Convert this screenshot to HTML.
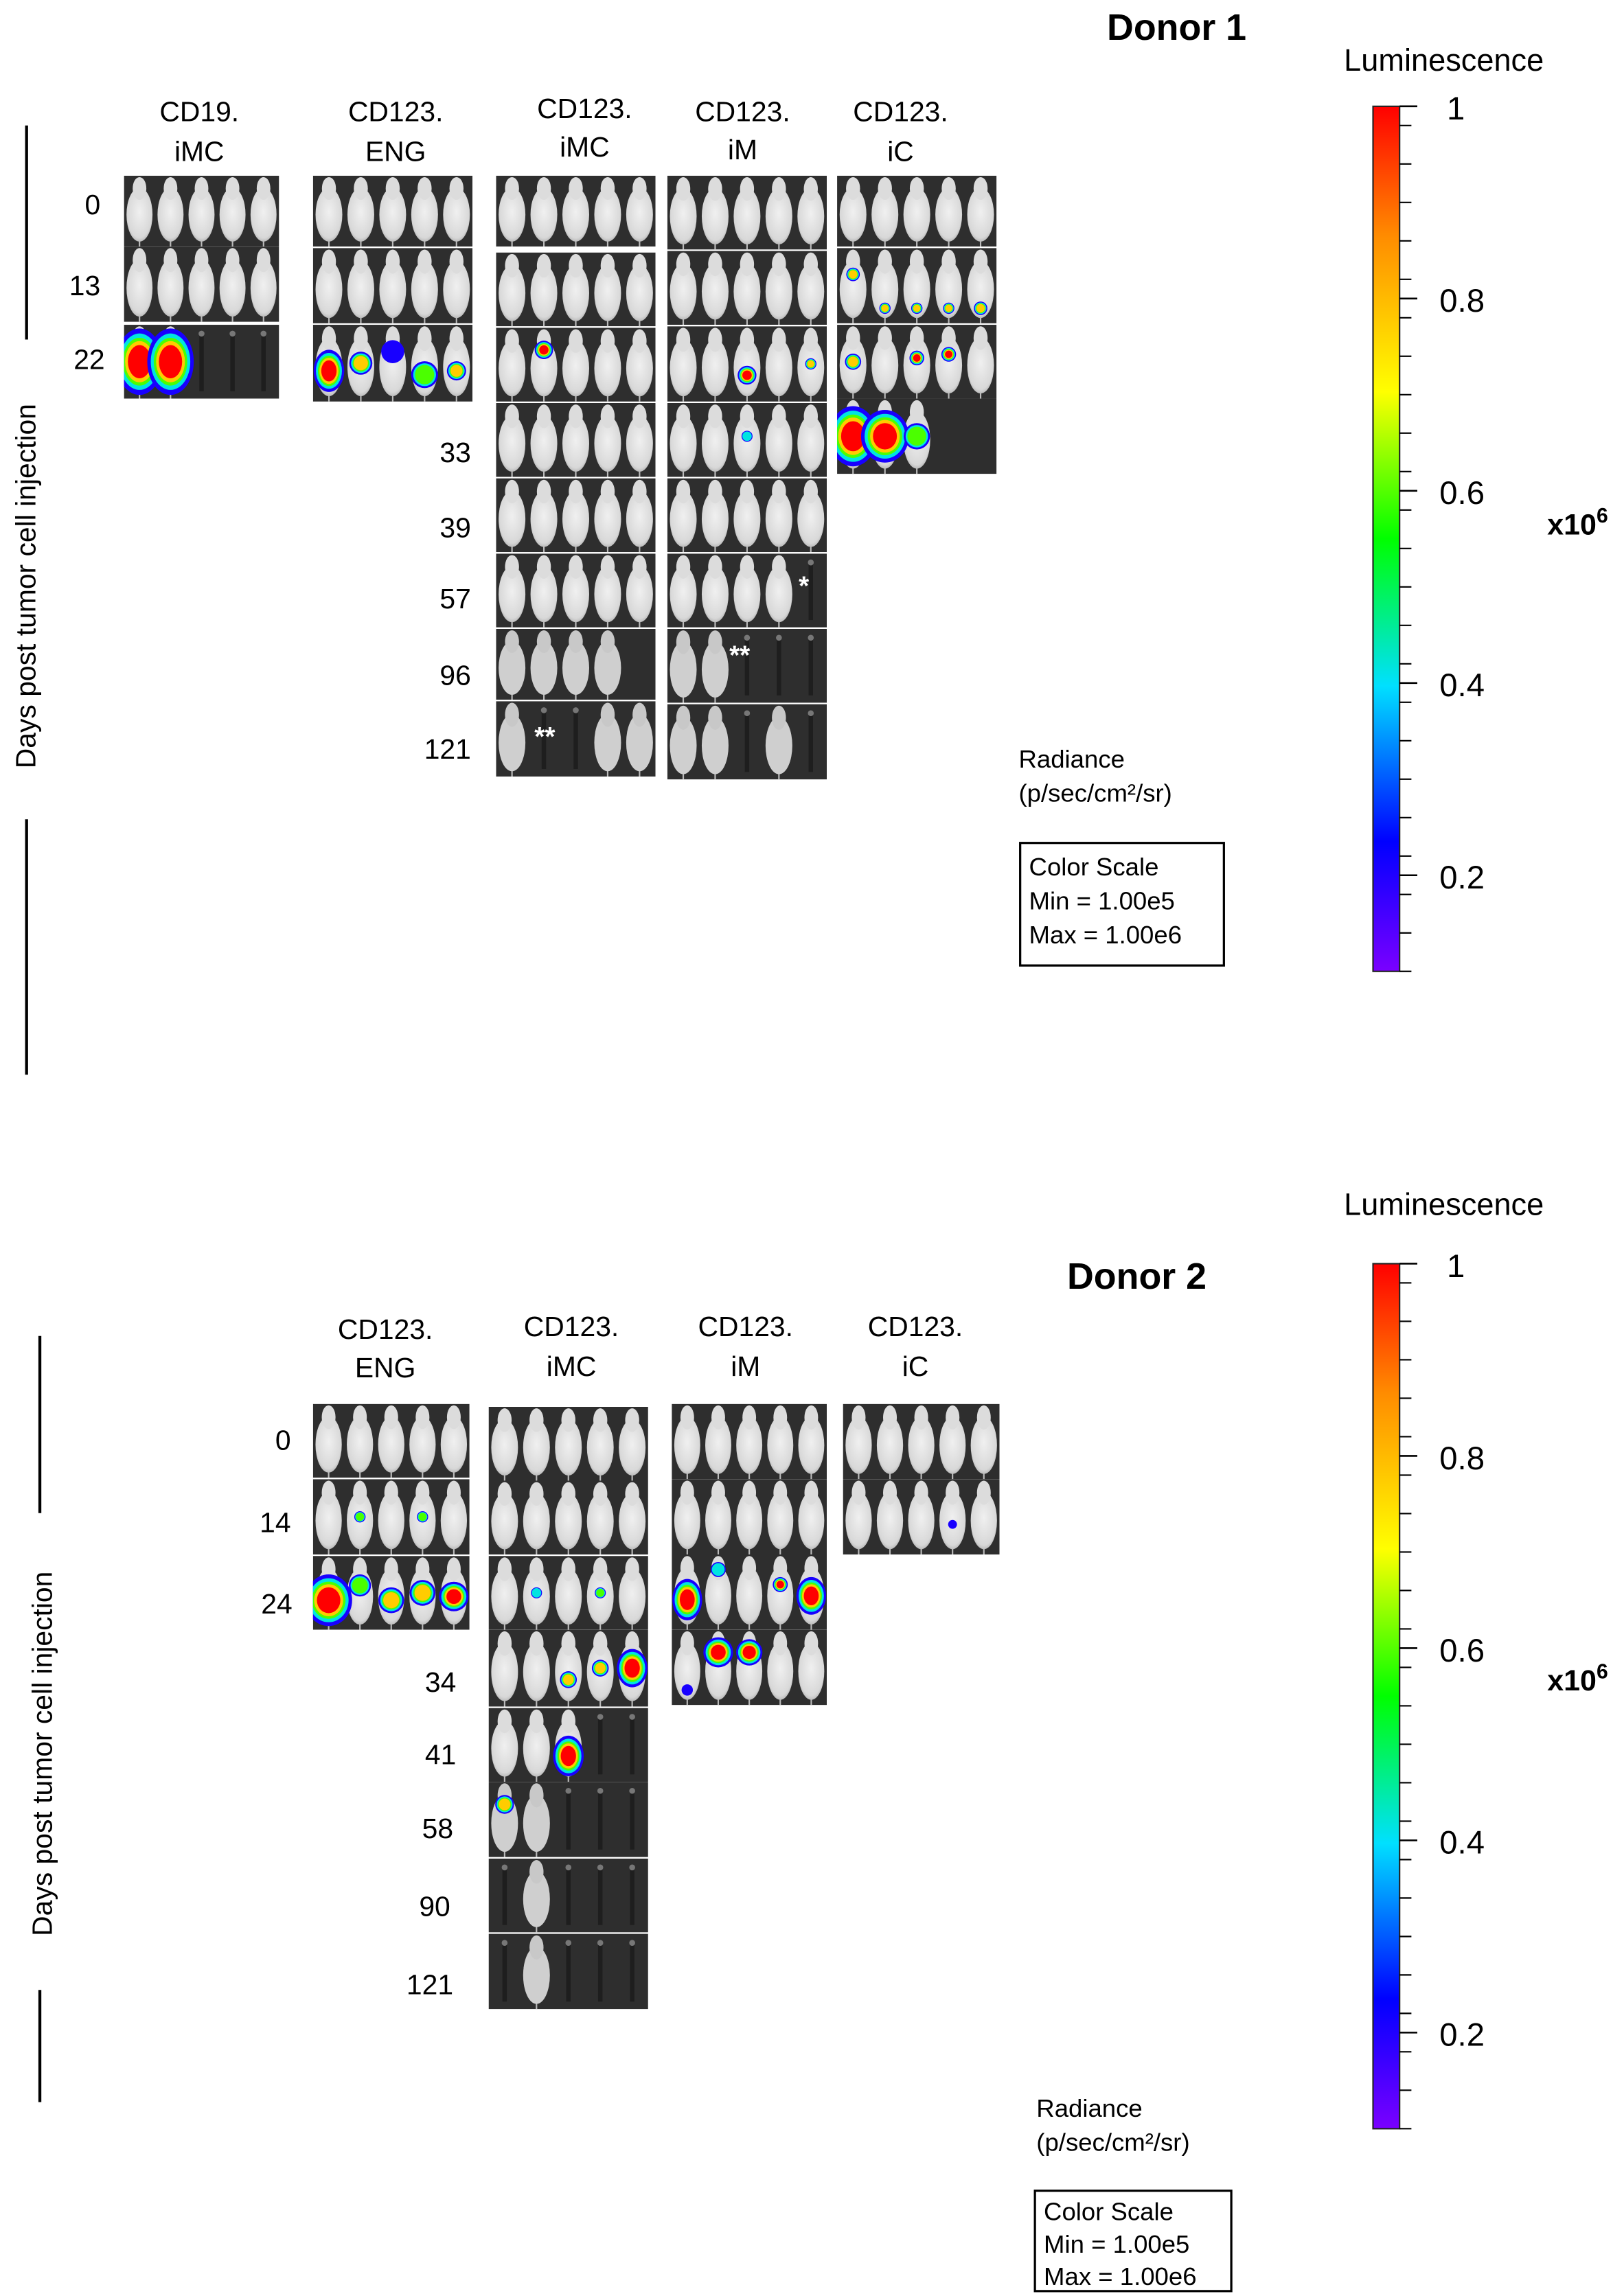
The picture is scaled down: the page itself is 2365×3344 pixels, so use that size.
<!DOCTYPE html>
<html><head><meta charset="utf-8">
<style>
html,body{margin:0;padding:0;background:#fff;}
svg{display:block;}
text{font-family:"Liberation Sans",sans-serif;fill:#000;}
.mono{font-family:"Liberation Sans",sans-serif;}
</style></head>
<body>
<svg id="fig" xmlns="http://www.w3.org/2000/svg" width="2365" height="3344" viewBox="0 0 1100 1555.3">
<defs>
<linearGradient id="cbar" x1="0" y1="1" x2="0" y2="0">
<stop offset="0" stop-color="#7a00ff"/>
<stop offset="0.15" stop-color="#0000ff"/>
<stop offset="0.33" stop-color="#00e0ff"/>
<stop offset="0.5" stop-color="#00ff00"/>
<stop offset="0.67" stop-color="#ffff00"/>
<stop offset="0.85" stop-color="#ff8c00"/>
<stop offset="1" stop-color="#ff0000"/>
</linearGradient>
<radialGradient id="mouseG" cx="0.5" cy="0.45" r="0.6">
<stop offset="0" stop-color="#f0f0f0"/><stop offset="0.8" stop-color="#d8d8d8"/><stop offset="1" stop-color="#a8a8a8"/>
</radialGradient>
</defs>

<text x="797" y="27" font-size="25" font-weight="bold" text-anchor="middle">Donor 1</text>
<g font-size="19" text-anchor="middle">
<text x="135" y="82">CD19.</text><text x="135" y="109">iMC</text>
<text x="268" y="82">CD123.</text><text x="268" y="109">ENG</text>
<text x="396" y="80">CD123.</text><text x="396" y="106">iMC</text>
<text x="503" y="82">CD123.</text><text x="503" y="108">iM</text>
<text x="610" y="82">CD123.</text><text x="610" y="109">iC</text>
</g>
<g>
<line x1="18" y1="85" x2="18" y2="230" stroke="#000" stroke-width="2"/>
<line x1="18" y1="555" x2="18" y2="728" stroke="#000" stroke-width="2"/>
<text transform="translate(24,397) rotate(-90)" font-size="19" text-anchor="middle">Days post tumor cell injection</text>
</g>

<text x="770" y="873" font-size="25" font-weight="bold" text-anchor="middle">Donor 2</text>
<g font-size="19" text-anchor="middle">
<text x="261" y="907">CD123.</text><text x="261" y="933">ENG</text>
<text x="387" y="905">CD123.</text><text x="387" y="932">iMC</text>
<text x="505" y="905">CD123.</text><text x="505" y="932">iM</text>
<text x="620" y="905">CD123.</text><text x="620" y="932">iC</text>
</g>
<g>
<line x1="27" y1="905" x2="27" y2="1025" stroke="#000" stroke-width="2"/>
<line x1="27" y1="1348" x2="27" y2="1424" stroke="#000" stroke-width="2"/>
<text transform="translate(35,1188) rotate(-90)" font-size="19" text-anchor="middle">Days post tumor cell injection</text>
</g>

<g font-size="17">
<text class="mono" x="690" y="520">Radiance</text>
<text class="mono" x="690" y="543">(p/sec/cm²/sr)</text>
<rect x="691" y="571" width="138" height="83" fill="none" stroke="#000" stroke-width="1.5"/>
<text class="mono" x="697" y="593">Color Scale</text>
<text class="mono" x="697" y="616">Min = 1.00e5</text>
<text class="mono" x="697" y="639">Max = 1.00e6</text>
</g>
<g font-size="17">
<text class="mono" x="702" y="1434">Radiance</text>
<text class="mono" x="702" y="1457">(p/sec/cm²/sr)</text>
<rect x="701" y="1484" width="133" height="68" fill="none" stroke="#000" stroke-width="1.5"/>
<text class="mono" x="707" y="1504">Color Scale</text>
<text class="mono" x="707" y="1526">Min = 1.00e5</text>
<text class="mono" x="707" y="1548">Max = 1.00e6</text>
</g>

<g id="colorbars"></g>
<g id="panels"></g>
<g id="daylabels" font-size="19" text-anchor="end"></g>
<g font-size="18" font-weight="bold">
<text x="541" y="403" style="fill:#fff">*</text>
<text x="494" y="450" style="fill:#fff">**</text>
<text x="362" y="505" style="fill:#fff">**</text>
</g>
</svg>

<script>
const cbTickValues = [1, 0.8, 0.6, 0.4, 0.2];
const cbTickLabels = ["1", "0.8", "0.6", "0.4", "0.2"];
const cbMin = 0.1, cbMax = 1.0;

const donor1Days = ["0","13","22","33","39","57","96","121"];
const donor2Days = ["0","14","24","34","41","58","90","121"];

const d1_CD19_iMC = ["11111","11111","11000"];
const d1_CD123_ENG = ["11111","11111","11111"];
const d1_CD123_iMC = ["11111","11111","11111","11111","11111","11111","1111","10011"];
const d1_CD123_iM = ["11111","11111","11111","11111","11111","11110","11000","11010"];
const d1_CD123_iC = ["11111","11111","11111","111"];
const d2_CD123_ENG = ["11111","11111","11111"];
const d2_CD123_iMC = ["11111","11111","11111","11111","11100","11000","01000","01000"];
const d2_CD123_iM = ["11111","11111","11111","11111"];
const d2_CD123_iC = ["11111","11111"];

// [group, timepoint, mouse, relY, size, intensity]
const signals = [
 ["d1_CD19_iMC",2,0,0.5,0.9,1],["d1_CD19_iMC",2,1,0.5,0.9,1],
 ["d1_CD123_ENG",2,0,0.6,0.55,1],["d1_CD123_ENG",2,1,0.5,0.3,0.9],["d1_CD123_ENG",2,2,0.35,0.3,0.3],
 ["d1_CD123_ENG",2,3,0.65,0.35,0.6],["d1_CD123_ENG",2,4,0.6,0.25,0.8],
 ["d1_CD123_iMC",2,1,0.3,0.25,1],
 ["d1_CD123_iM",2,2,0.65,0.25,1],["d1_CD123_iM",2,4,0.5,0.15,0.8],["d1_CD123_iM",3,2,0.45,0.15,0.4],
 ["d1_CD123_iC",1,0,0.35,0.18,0.9],["d1_CD123_iC",1,1,0.8,0.15,0.8],["d1_CD123_iC",1,2,0.8,0.15,0.9],
 ["d1_CD123_iC",1,3,0.8,0.15,0.9],["d1_CD123_iC",1,4,0.8,0.18,0.9],
 ["d1_CD123_iC",2,0,0.5,0.22,0.95],["d1_CD123_iC",2,2,0.45,0.2,1],["d1_CD123_iC",2,3,0.4,0.2,1],
 ["d1_CD123_iC",3,0,0.5,0.8,1],["d1_CD123_iC",3,1,0.5,0.7,1],["d1_CD123_iC",3,2,0.5,0.35,0.7],
 ["d2_CD123_ENG",1,1,0.5,0.15,0.6],["d2_CD123_ENG",1,3,0.5,0.15,0.7],
 ["d2_CD123_ENG",2,0,0.6,0.7,1],["d2_CD123_ENG",2,1,0.4,0.3,0.7],["d2_CD123_ENG",2,2,0.6,0.35,0.9],
 ["d2_CD123_ENG",2,3,0.5,0.35,0.9],["d2_CD123_ENG",2,4,0.55,0.4,1],
 ["d2_CD123_iMC",2,1,0.5,0.15,0.4],["d2_CD123_iMC",2,3,0.5,0.15,0.7],
 ["d2_CD123_iMC",3,2,0.65,0.22,0.8],["d2_CD123_iMC",3,3,0.5,0.22,0.9],["d2_CD123_iMC",3,4,0.5,0.5,1],
 ["d2_CD123_iMC",4,2,0.65,0.55,1],["d2_CD123_iMC",5,0,0.3,0.25,0.9],
 ["d2_CD123_iM",2,0,0.6,0.55,1],["d2_CD123_iM",2,1,0.2,0.2,0.5],["d2_CD123_iM",2,3,0.4,0.2,1],["d2_CD123_iM",2,4,0.55,0.5,1],
 ["d2_CD123_iM",3,1,0.3,0.4,1],["d2_CD123_iM",3,2,0.3,0.35,1],["d2_CD123_iM",3,0,0.8,0.15,0.2],
 ["d2_CD123_iC",1,3,0.6,0.08,0.2]
];

const groups = {
 d1_CD19_iMC:{data:d1_CD19_iMC,x:84,w:105,tops:[119,167,220],h:[48,51,50]},
 d1_CD123_ENG:{data:d1_CD123_ENG,x:212,w:108,tops:[119,168,220],h:[48,51,52]},
 d1_CD123_iMC:{data:d1_CD123_iMC,x:336,w:108,tops:[119,171,222,273,324,375,426,475],h:[48,50,50,50,50,50,48,51]},
 d1_CD123_iM:{data:d1_CD123_iM,x:452,w:108,tops:[119,170,221,273,324,375,426,477],h:[50,50,51,50,50,50,50,51]},
 d1_CD123_iC:{data:d1_CD123_iC,x:567,w:108,tops:[119,168,220,270],h:[48,51,50,51]},
 d2_CD123_ENG:{data:d2_CD123_ENG,x:212,w:106,tops:[951,1002,1054],h:[50,51,50]},
 d2_CD123_iMC:{data:d2_CD123_iMC,x:331,w:108,tops:[953,1003,1054,1104,1157,1207,1259,1310],h:[50,50,50,52,50,51,50,51]},
 d2_CD123_iM:{data:d2_CD123_iM,x:455,w:105,tops:[951,1002,1053,1104],h:[51,51,51,51]},
 d2_CD123_iC:{data:d2_CD123_iC,x:571,w:106,tops:[951,1002],h:[51,51]}
};
const NS="http://www.w3.org/2000/svg";
function mk(tag,attrs,parent){const e=document.createElementNS(NS,tag);for(const k in attrs)e.setAttribute(k,attrs[k]);parent.appendChild(e);return e;}

function colorAt(v){
  const stops=[[0,[122,0,255]],[0.15,[0,0,255]],[0.33,[0,224,255]],[0.5,[0,255,0]],[0.67,[255,255,0]],[0.85,[255,140,0]],[1,[255,0,0]]];
  for(let i=1;i<stops.length;i++){if(v<=stops[i][0]){const a=stops[i-1],b=stops[i],t=(v-a[0])/(b[0]-a[0]);
   return "rgb("+a[1].map((c,j)=>Math.round(c+(b[1][j]-c)*t)).join(",")+")";}}
  return "rgb(255,0,0)";
}

const svg=document.getElementById('fig');
const defs=svg.querySelector('defs');
const panelsG=document.getElementById('panels');
const cells={};
let clipId=0;
for(const gname in groups){
  const g=groups[gname];
  g.data.forEach((mask,ti)=>{
    const y=g.tops[ti],h=g.h[ti];
    const cid='clip'+(clipId++);
    const cp=mk('clipPath',{id:cid},defs);
    mk('rect',{x:g.x,y:y,width:g.w,height:h},cp);
    const pg=mk('g',{'clip-path':'url(#'+cid+')'},panelsG);
    
    
    mk('rect',{x:g.x,y:y,width:g.w,height:h,fill:'#2e2e2e'},pg);
    const n=5, sw=g.w/n;
    const blur = (gname==='d1_CD123_iMC'&&ti>=6)||(gname==='d1_CD123_iM'&&ti>=6)||(gname==='d2_CD123_iMC'&&ti>=5);
    for(let m=0;m<mask.length;m++){
      const cx=g.x+sw*(m+0.5);
      if(mask[m]==='1'){
        const mg=mk('g',{},pg);
        
        
        mk('line',{x1:cx,y1:y+h*0.8,x2:cx,y2:y+h,stroke:'#bbb','stroke-width':1},mg);
        mk('ellipse',{cx:cx,cy:y+h*0.55,rx:sw*0.42,ry:h*0.38,fill:blur?'#cfcfcf':'url(#mouseG)'},mg);
        mk('ellipse',{cx:cx,cy:y+h*0.18,rx:sw*0.22,ry:h*0.16,fill:blur?'#c8c8c8':'#dcdcdc'},mg);
      } else {
        mk('rect',{x:cx-1.5,y:y+h*0.1,width:3,height:h*0.8,fill:'#1e1e1e'},pg);
        mk('circle',{cx:cx,cy:y+h*0.12,r:2,fill:'#777'},pg);
      }
    }
    cells[gname+'_'+ti]={x:g.x,y:y,w:g.w,h:h,sw:sw,g:pg};
  });
}
signals.forEach(s=>{
  const c=cells[s[0]+'_'+s[1]]; if(!c) return;
  const cx=c.x+c.sw*(s[2]+0.5), cy=c.y+c.h*s[3];
  const r=Math.max(3,s[4]*c.h*0.5), inten=s[5];
  const rxMax = s[4]>=0.7 ? c.sw*0.75 : c.sw*0.48;
  const sg=mk('g',{},c.g);
  
  
  const layers=[[1.0,0.12],[0.85,0.35],[0.72,0.55],[0.62,0.75],[0.5,1.0]];
  layers.forEach(L=>{ if(L[1]<=inten+0.01){
    mk('ellipse',{cx:cx,cy:cy,rx:Math.min(r,rxMax)*L[0],ry:r*L[0],fill:colorAt(L[1])},sg);
  }});
});

const dl=document.getElementById('daylabels');
const d1Pos=[[68,145],[68,200],[71,250],[319,313],[319,364],[319,412],[319,464],[319,514]];
const d2Pos=[[197,982],[197,1038],[198,1093],[309,1146],[309,1195],[307,1245],[305,1298],[307,1351]];
donor1Days.forEach((d,i)=>{const t=mk('text',{x:d1Pos[i][0],y:d1Pos[i][1]},dl);t.textContent=d;
 
 });
donor2Days.forEach((d,i)=>{const t=mk('text',{x:d2Pos[i][0],y:d2Pos[i][1]},dl);t.textContent=d;
 
 });

const cbG=document.getElementById('colorbars');
function colorbar(top,bottom,lumY,expX,expY,id){
  const g=mk('g',{},cbG);
  
  
  const x=930,w=18;
  const yScale=v=>bottom-(v-cbMin)/(cbMax-cbMin)*(bottom-top);
  const lt=mk('text',{x:978,y:lumY,'font-size':21,'text-anchor':'middle'},g);lt.textContent='Luminescence';
  
  
  mk('rect',{x:x,y:top,width:w,height:bottom-top,fill:'url(#cbar)',stroke:'#222','stroke-width':1},g);
  for(let v=cbMin;v<=cbMax+1e-9;v+=0.04){
    const yy=yScale(v);
    mk('line',{x1:x+w,y1:yy,x2:x+w+8,y2:yy,stroke:'#000','stroke-width':1},g);
  }
  cbTickValues.forEach((v,i)=>{
    const yy=yScale(v);
    mk('line',{x1:x+w,y1:yy,x2:x+w+12,y2:yy,stroke:'#000','stroke-width':1.2},g);
    const t=mk('text',{x:v===1?980:975,y:yy+9,'font-size':22},g);t.textContent=cbTickLabels[i];
    
    
  });
  const e=mk('text',{x:expX,y:expY,'font-size':20,'font-weight':'bold'},g);
  e.innerHTML='x10<tspan dy="-8" font-size="14">6</tspan>';
  
  
}
colorbar(72,658,48,1048,362,'donor-1');
colorbar(856,1442,823,1048,1145,'donor-2');
</script>
</body></html>
